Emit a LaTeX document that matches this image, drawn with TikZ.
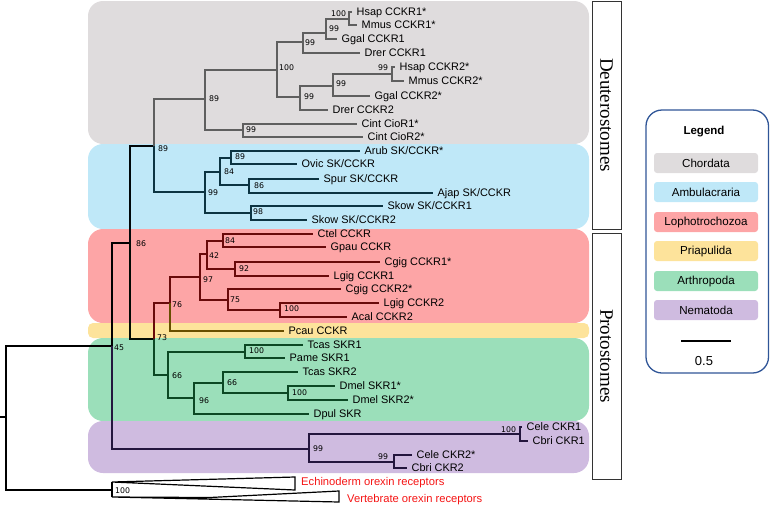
\documentclass[tikz,border=0pt]{standalone}
\usepackage{fontspec}
\setmainfont{Liberation Sans}
\newfontfamily\bsfont{DejaVu Sans}
\newfontfamily\grpfont{Liberation Serif}
\definecolor{chordbg}{RGB}{223,220,221}
\definecolor{ambubg}{RGB}{191,232,248}
\definecolor{lophbg}{RGB}{253,165,166}
\definecolor{priabg}{RGB}{253,227,155}
\definecolor{arthbg}{RGB}{155,223,186}
\definecolor{nemabg}{RGB}{207,187,224}
\definecolor{chordln}{RGB}{95,95,95}
\definecolor{ambuln}{RGB}{12,52,66}
\definecolor{lophln}{RGB}{105,10,10}
\definecolor{priln}{RGB}{105,78,0}
\definecolor{arthln}{RGB}{12,72,36}
\definecolor{nemaln}{RGB}{36,22,62}
\definecolor{legendln}{RGB}{47,85,151}
\definecolor{orexred}{RGB}{245,20,20}

\begin{document}
\begin{tikzpicture}[x=1pt,y=-1pt,
  br/.style={line width=1.8pt},
  tip/.style={anchor=west,inner xsep=4.5pt,inner ysep=0pt,text height=7.8pt,text depth=0pt,font=\fontsize{10.9}{12}\selectfont},
  bs/.style={anchor=west,inner sep=0pt,font=\bsfont\fontsize{7.8}{9}\selectfont},
  clade/.style={rounded corners=15pt},
  grp/.style={draw=black!80,line width=1pt,fill=white,rotate=-90,minimum height=29pt,inner sep=0pt,font=\grpfont\fontsize{19}{22}\selectfont},
  keybox/.style={rounded corners=3pt,minimum width=104pt,minimum height=20pt,inner sep=0pt,font=\fontsize{11.6}{13}\selectfont}]
\useasboundingbox (0,0) rectangle (770,506);

\fill[chordbg,clade] (88,1) rectangle (589,144);
\fill[ambubg,clade] (88,144) rectangle (589,229);
\fill[lophbg,clade] (88,229) rectangle (589,323);
\fill[priabg,rounded corners=5pt] (88,323) rectangle (589,338);
\fill[arthbg,clade] (88,338) rectangle (589,421);
\fill[nemabg,clade] (88,421) rectangle (589,473);

\node[grp,minimum width=228pt] (deut) at (606.5,115) {Deuterostomes};
\node[grp,minimum width=246pt] (prot) at (606.5,356) {Protostomes};

\draw[legendln,line width=1.3pt,rounded corners=16pt] (646,110) rectangle (768.5,373);
\node[font=\bfseries\fontsize{11.5}{13}\selectfont] (legtitle) at (704,132) {Legend};
\node[keybox,fill=chordbg] (kchord) at (706,163) {Chordata};
\node[keybox,fill=ambubg] (kambu) at (706,192) {Ambulacraria};
\node[keybox,fill=lophbg] (kloph) at (706,222) {Lophotrochozoa};
\node[keybox,fill=priabg] (kpria) at (706,251) {Priapulida};
\node[keybox,fill=arthbg] (karth) at (706,281) {Arthropoda};
\node[keybox,fill=nemabg] (knema) at (706,310) {Nematoda};
\coordinate (sbl) at (681,341);
\coordinate (sbr) at (731,341);
\draw[line width=1.8pt] (sbl) -- (sbr);
\node[font=\fontsize{13}{15}\selectfont] (sblab) at (704,361) {0.5};

% internal nodes
\coordinate (stub) at (0,417);
\coordinate (root) at (6,417);
\coordinate (og) at (112,490);
\coordinate (n45) at (112,346);
\coordinate (n86) at (130,243);
\coordinate (deu89) at (154,146);
\coordinate (cho89) at (205,99);
\coordinate (c100) at (277,70);
\coordinate (c99a) at (303,42);
\coordinate (c99c) at (326,33);
\coordinate (c100b) at (349,19);
\coordinate (c99b) at (300,97);
\coordinate (c99d) at (333,86);
\coordinate (c99e) at (392,74);
\coordinate (cio99) at (243,130);
\coordinate (amb99) at (205,192);
\coordinate (a84) at (220,172);
\coordinate (a89) at (231,158);
\coordinate (a86) at (249,185);
\coordinate (a98) at (251,213);
\coordinate (pro73) at (154,339);
\coordinate (l76) at (170,303);
\coordinate (l97) at (200,277);
\coordinate (l42) at (207,254);
\coordinate (l84) at (223,241);
\coordinate (l92) at (235,269);
\coordinate (l75) at (228,300);
\coordinate (l100) at (280,310);
\coordinate (ar66) at (168,375);
\coordinate (ar100) at (245,352);
\coordinate (ar96) at (194,398);
\coordinate (ar66b) at (223,383);
\coordinate (ar100b) at (288,393);
\coordinate (nem99) at (309,449);
\coordinate (nem100) at (520,434);
\coordinate (nem99b) at (394,462);

% tips
\node[tip] (hsapA) at (352,12) {Hsap CCKR1*};
\node[tip] (mmusA) at (357,25) {Mmus CCKR1*};
\node[tip] (ggalA) at (337,39) {Ggal CCKR1};
\node[tip] (drerA) at (360,53) {Drer CCKR1};
\node[tip] (hsapB) at (395,67) {Hsap CCKR2*};
\node[tip] (mmusB) at (404,81) {Mmus CCKR2*};
\node[tip] (ggalB) at (370,96) {Ggal CCKR2*};
\node[tip] (drerB) at (328,110) {Drer CCKR2};
\node[tip] (cintA) at (357,124) {Cint CioR1*};
\node[tip] (cintB) at (363,137) {Cint CioR2*};
\node[tip] (arub) at (360,151) {Arub SK/CCKR*};
\node[tip] (ovic) at (297,164) {Ovic SK/CCKR};
\node[tip] (spur) at (319,179) {Spur SK/CCKR};
\node[tip] (ajap) at (433,193) {Ajap SK/CCKR};
\node[tip] (skowA) at (383,206) {Skow SK/CCKR1};
\node[tip] (skowB) at (307,220) {Skow SK/CCKR2};
\node[tip] (ctel) at (313,234) {Ctel CCKR};
\node[tip] (gpau) at (326,247) {Gpau CCKR};
\node[tip] (cgigA) at (380,262) {Cgig CCKR1*};
\node[tip] (lgigA) at (329,276) {Lgig CCKR1};
\node[tip] (cgigB) at (341,289) {Cgig CCKR2*};
\node[tip] (lgigB) at (379,303) {Lgig CCKR2};
\node[tip] (acal) at (347,317) {Acal CCKR2};
\node[tip] (pcau) at (284,331) {Pcau CCKR};
\node[tip] (tcasA) at (303,345) {Tcas SKR1};
\node[tip] (pame) at (285,358) {Pame SKR1};
\node[tip] (tcasB) at (298,372) {Tcas SKR2};
\node[tip] (dmelA) at (335,386) {Dmel SKR1*};
\node[tip] (dmelB) at (348,400) {Dmel SKR2*};
\node[tip] (dpul) at (309,414) {Dpul SKR};
\node[tip] (celeA) at (522,427) {Cele CKR1};
\node[tip] (cbriA) at (528,441) {Cbri CKR1};
\node[tip] (celeB) at (412,455) {Cele CKR2*};
\node[tip] (cbriB) at (407,468) {Cbri CKR2};

% branches
\draw[br] (stub) -- (root);
\draw[br] (root) |- (n45);
\draw[br] (root) |- (og);
\draw[br] (n45) |- (n86);
\draw[br,black!85!ambuln] (n86) |- (deu89);
\draw[br,black!85!arthln] (n86) |- (pro73);
\draw[br,nemaln] (n45) |- (nem99);

\draw[br,chordln] (deu89) |- (cho89);
\draw[br,chordln] (cho89) |- (c100);
\draw[br,chordln] (cho89) |- (cio99);
\draw[br,chordln] (c100) |- (c99a);
\draw[br,chordln] (c100) |- (c99b);
\draw[br,chordln] (c99a) |- (c99c);
\draw[br,chordln] (c99a) |- (drerA.west);
\draw[br,chordln] (c99c) |- (c100b);
\draw[br,chordln] (c99c) |- (ggalA.west);
\draw[br,chordln] (c100b) |- (hsapA.west);
\draw[br,chordln] (c100b) |- (mmusA.west);
\draw[br,chordln] (c99b) |- (c99d);
\draw[br,chordln] (c99b) |- (drerB.west);
\draw[br,chordln] (c99d) |- (c99e);
\draw[br,chordln] (c99d) |- (ggalB.west);
\draw[br,chordln] (c99e) |- (hsapB.west);
\draw[br,chordln] (c99e) |- (mmusB.west);
\draw[br,chordln] (cio99) |- (cintA.west);
\draw[br,chordln] (cio99) |- (cintB.west);

\draw[br,ambuln] (deu89) |- (amb99);
\draw[br,ambuln] (amb99) |- (a84);
\draw[br,ambuln] (amb99) |- (a98);
\draw[br,ambuln] (a84) |- (a89);
\draw[br,ambuln] (a84) |- (a86);
\draw[br,ambuln] (a89) |- (arub.west);
\draw[br,ambuln] (a89) |- (ovic.west);
\draw[br,ambuln] (a86) |- (spur.west);
\draw[br,ambuln] (a86) |- (ajap.west);
\draw[br,ambuln] (a98) |- (skowA.west);
\draw[br,ambuln] (a98) |- (skowB.west);

\draw[br,lophln] (pro73) |- (l76);
\draw[br,lophln] (l76) |- (l97);
\draw[br,priln] (l76) |- (pcau.west);
\draw[br,lophln] (l97) |- (l42);
\draw[br,lophln] (l97) |- (l75);
\draw[br,lophln] (l42) |- (l84);
\draw[br,lophln] (l42) |- (l92);
\draw[br,lophln] (l84) |- (ctel.west);
\draw[br,lophln] (l84) |- (gpau.west);
\draw[br,lophln] (l92) |- (cgigA.west);
\draw[br,lophln] (l92) |- (lgigA.west);
\draw[br,lophln] (l75) |- (cgigB.west);
\draw[br,lophln] (l75) |- (l100);
\draw[br,lophln] (l100) |- (lgigB.west);
\draw[br,lophln] (l100) |- (acal.west);

\draw[br,arthln] (pro73) |- (ar66);
\draw[br,arthln] (ar66) |- (ar100);
\draw[br,arthln] (ar66) |- (ar96);
\draw[br,arthln] (ar100) |- (tcasA.west);
\draw[br,arthln] (ar100) |- (pame.west);
\draw[br,arthln] (ar96) |- (ar66b);
\draw[br,arthln] (ar96) |- (dpul.west);
\draw[br,arthln] (ar66b) |- (tcasB.west);
\draw[br,arthln] (ar66b) |- (ar100b);
\draw[br,arthln] (ar100b) |- (dmelA.west);
\draw[br,arthln] (ar100b) |- (dmelB.west);

\draw[br,nemaln] (nem99) |- (nem100);
\draw[br,nemaln] (nem99) |- (nem99b);
\draw[br,nemaln] (nem100) |- (celeA.west);
\draw[br,nemaln] (nem100) |- (cbriA.west);
\draw[br,nemaln] (nem99b) |- (celeB.west);
\draw[br,nemaln] (nem99b) |- (cbriB.west);

% collapsed outgroups
\draw[line width=1.2pt,fill=white] (112,482) -- (295,477) -- (295,490) -- (135,483) -- cycle;
\draw[line width=1.2pt,fill=white] (112,497) -- (339,502) -- (339,491) -- (210,497.5) -- cycle;
\draw[line width=1.2pt] (112,482) -- (112,497);
\node[tip,text=orexred,inner xsep=3pt,font=\fontsize{11.2}{13}\selectfont] (echino) at (298,482) {Echinoderm orexin receptors};
\node[tip,text=orexred,inner xsep=3pt,font=\fontsize{11.2}{13}\selectfont] (verteb) at (344,499) {Vertebrate orexin receptors};

% support values
\node[bs] (s1) at (209,99) {89};
\node[bs] (s2) at (279,68) {100};
\node[bs] (s3) at (246,130) {99};
\node[bs] (s4) at (305,43) {99};
\node[bs] (s5) at (329,29) {99};
\node[bs] (s6) at (331,14) {100};
\node[bs] (s7) at (304,97) {99};
\node[bs] (s8) at (336,84) {99};
\node[bs] (s9) at (378,68) {99};
\node[bs] (s10) at (158,149) {89};
\node[bs] (s11) at (208,193) {99};
\node[bs] (s12) at (224,172) {84};
\node[bs] (s13) at (235,157) {89};
\node[bs] (s14) at (254,186) {86};
\node[bs] (s15) at (253,212) {98};
\node[bs] (s16) at (136,244) {86};
\node[bs] (s17) at (114,348) {45};
\node[bs] (s18) at (157,338) {73};
\node[bs] (s19) at (172,305) {76};
\node[bs] (s20) at (203,280) {97};
\node[bs] (s21) at (209,256) {42};
\node[bs] (s22) at (225,241) {84};
\node[bs] (s23) at (239,269) {92};
\node[bs] (s24) at (230,300) {75};
\node[bs] (s25) at (284,309) {100};
\node[bs] (s26) at (172,376) {66};
\node[bs] (s27) at (249,351) {100};
\node[bs] (s28) at (199,401) {96};
\node[bs] (s29) at (227,383) {66};
\node[bs] (s30) at (292,393) {100};
\node[bs] (s31) at (313,449) {99};
\node[bs] (s32) at (501,430) {100};
\node[bs] (s33) at (378,457) {99};
\node[bs] (s34) at (115,491) {100};
\end{tikzpicture}
\end{document}
